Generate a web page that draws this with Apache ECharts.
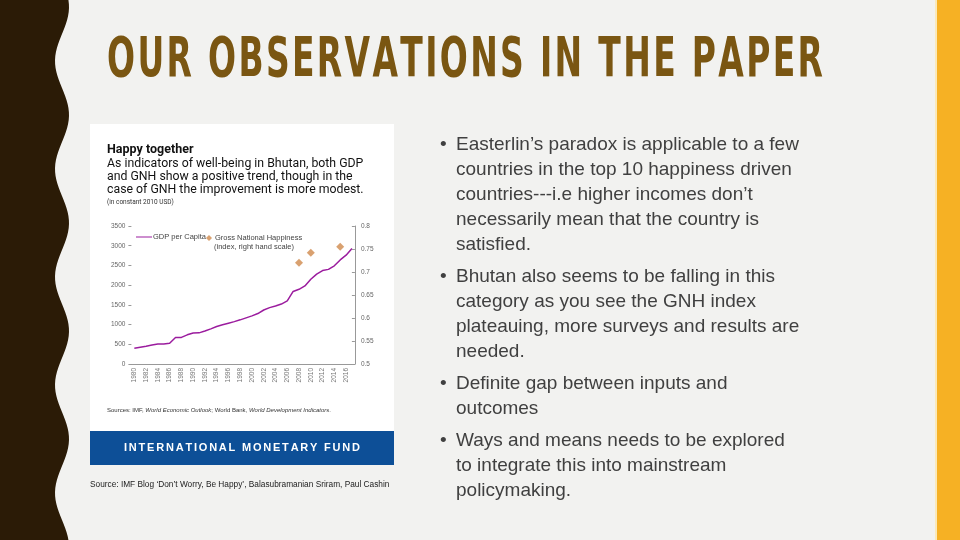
<!DOCTYPE html>
<html><head><meta charset="utf-8">
<script src="https://cdn.jsdelivr.net/npm/echarts@6/dist/echarts.min.js"></script>
<style>html,body{margin:0;padding:0;background:#f2f2f0;}#c{width:960px;height:540px;}</style>
</head><body><div id="c"></div>
<script>
// ---- data ----
const years = ['1980','1981','1982','1983','1984','1985','1986','1987','1988','1989','1990','1991','1992','1993','1994','1995','1996','1997','1998','1999','2000','2001','2002','2003','2004','2005','2006','2007','2008','2009','2010','2011','2012','2013','2014','2015','2016','2017'];
const gdpPerCapita = [400,425,450,480,505,510,525,670,675,740,785,790,835,890,950,995,1035,1075,1120,1170,1220,1280,1370,1430,1470,1520,1600,1840,1895,1980,2150,2280,2370,2400,2490,2640,2760,2930];
const gnhYears = ['2008','2010','2015'];
const gnhValues = [0.72, 0.742, 0.755];
const leftTicks = {min:0, max:3500, interval:500};
const rightTicks = {min:0.5, max:0.8, interval:0.05};
const bullets = [
  ["Easterlin\u2019s paradox is applicable to a few","countries in the top 10 happiness driven","countries---i.e higher incomes don\u2019t","necessarily mean that the country is","satisfied."],
  ["Bhutan also seems to be falling in this","category as you see the GNH index","plateauing, more surveys and results are","needed."],
  ["Definite gap between inputs and","outcomes"],
  ["Ways and means needs to be explored","to integrate this into mainstream","policymaking."]
];

const gnhSeries = years.map(y => { const i = gnhYears.indexOf(y); return i >= 0 ? gnhValues[i] : null; });

const cv = document.createElement('canvas').getContext('2d');
function spaced(str, x, y, font, scale, totalWidth, color, z) {
  cv.font = font;
  const ws = [...str].map(ch => cv.measureText(ch).width * scale);
  const sum = ws.reduce((a,b)=>a+b,0);
  const gap = (totalWidth - sum) / (str.length - 1);
  const out = []; let cx = x;
  [...str].forEach((ch, i) => {
    out.push({type:'text', x: cx, y: y, scaleX: scale, z: z||10,
      style:{text: ch, font: font, fill: color, textVerticalAlign:'middle'}});
    cx += ws[i] + gap;
  });
  return out;
}

// wavy left strip
const wave = [[0,0]];
for (let y = 0; y <= 540; y += 4) wave.push([62 + 7*Math.sin((y+20)/540*2*Math.PI*5), y]);
wave.push([0,540]);

const g = [];
g.push({type:'polygon', shape:{points: wave}, style:{fill:'#2b1b06'}, z:-5});
g.push({type:'rect', shape:{x:935,y:0,width:2,height:540}, style:{fill:'#fbe9b8'}, z:-5});
g.push({type:'rect', shape:{x:937,y:0,width:23,height:540}, style:{fill:'#f6b124'}, z:-5});
// title
g.push(...spaced('OUR OBSERVATIONS IN THE PAPER', 107, 62, 'bold 55px "DejaVu Sans"', 0.6, 716, '#7a5612', 5));
// image panel
g.push({type:'rect', shape:{x:90,y:124,width:304,height:307}, style:{fill:'#ffffff'}, z:-5});
g.push({type:'rect', shape:{x:90,y:431,width:304,height:34}, style:{fill:'#0d4f97'}, z:-5});
g.push(...spaced('INTERNATIONAL MONETARY FUND', 124, 448, 'bold 11px "Liberation Sans"', 1, 236, '#ffffff', 5));
g.push({type:'text', x:107, y:150, style:{text:'Happy together', font:'bold 12.5px Roboto', fill:'#111', textVerticalAlign:'middle'}, z:5});
['As indicators of well-being in Bhutan, both GDP','and GNH show a positive trend, though in the','case of GNH the improvement is more modest.'].forEach((t,i)=>{
  g.push({type:'text', x:107, y:163.5+i*13, style:{text:t, font:'12.3px Roboto', fill:'#111', textVerticalAlign:'middle'}, z:5});
});
g.push({type:'text', x:107, y:202, style:{text:'(in constant 2010 USD)', font:'6.5px Roboto', fill:'#333', textVerticalAlign:'middle'}, z:5});
g.push({type:'text', x:214, y:247, style:{text:'(index, right hand scale)', font:'7.5px "Liberation Sans"', fill:'#444', textVerticalAlign:'middle'}, z:5});
g.push({type:'text', x:107, y:410, style:{rich:{n:{font:'6px "Liberation Sans"',fill:'#333'},i:{font:'italic 6px "Liberation Sans"',fill:'#333'}},
  text:'{n|Sources: IMF, }{i|World Economic Outlook}{n|; World Bank, }{i|World Development Indicators}{n|.}', textVerticalAlign:'middle'}, z:5});
g.push({type:'text', x:90, y:485, style:{text:'Source: IMF Blog \u2018Don\u2019t Worry, Be Happy\u2019, Balasubramanian Sriram, Paul Cashin', font:'8.3px "Liberation Sans"', fill:'#222', textVerticalAlign:'middle'}, z:5});
// bullets
let ly = 144.5;
bullets.forEach(b => {
  g.push({type:'text', x:440, y:ly, style:{text:'\u2022', font:'19px "Liberation Sans"', fill:'#404040', textVerticalAlign:'middle'}, z:5});
  b.forEach(line => {
    g.push({type:'text', x:456, y:ly, style:{text:line, font:'19px "Liberation Sans"', fill:'#404040', textVerticalAlign:'middle'}, z:5});
    ly += 25;
  });
  ly += 7;
});

const chart = echarts.init(document.getElementById('c'), null, {renderer:'canvas'});
chart.setOption({
  backgroundColor:'#f2f2f0',
  animation:false,
  graphic: g,
  grid:{left:131.4, top:226, width:223.5, height:138},
  legend:[
    {data:['GDP per Capita'], left:136, top:233, itemWidth:16, itemHeight:8, icon:'path://M0,4 L16,4 L16,5 L0,5 Z',
     textStyle:{fontSize:7.5, color:'#444', fontFamily:'Liberation Sans', padding:[0,0,0,-4]}, padding:0},
    {data:['Gross National Happiness'], left:206, top:234, itemWidth:6, itemHeight:6, icon:'diamond',
     textStyle:{fontSize:7.5, color:'#444', fontFamily:'Liberation Sans', padding:[0,0,0,-2]}, padding:0}
  ],
  xAxis:{type:'category', data:years, boundaryGap:true, z:10,
    axisLine:{lineStyle:{color:'#999', width:1}},
    axisTick:{inside:true, length:3, interval:0, lineStyle:{color:'#999'}},
    axisLabel:{rotate:90, interval:1, fontSize:6.5, color:'#777', fontFamily:'Liberation Sans', margin:4}},
  yAxis:[
    {type:'value', min:leftTicks.min, max:leftTicks.max, interval:leftTicks.interval, z:10,
     splitLine:{show:false}, axisLine:{show:false},
     axisTick:{show:true, length:3, lineStyle:{color:'#999'}},
     axisLabel:{fontSize:6.5, color:'#666', fontFamily:'Liberation Sans', margin:6, formatter: v => String(v)}},
    {type:'value', position:'right', min:rightTicks.min, max:rightTicks.max, interval:rightTicks.interval, z:10,
     splitLine:{show:false}, axisLine:{show:true, lineStyle:{color:'#999'}},
     axisTick:{show:true, inside:true, length:3, lineStyle:{color:'#999'}},
     axisLabel:{fontSize:6.5, color:'#666', fontFamily:'Liberation Sans', margin:6}}
  ],
  series:[
    {name:'GDP per Capita', type:'line', data:gdpPerCapita, yAxisIndex:0, symbol:'none',
     lineStyle:{color:'#9b1c9e', width:1.5}, itemStyle:{color:'#9b1c9e'}},
    {name:'Gross National Happiness', type:'scatter', data:gnhSeries, yAxisIndex:1, symbol:'diamond', symbolSize:8,
     itemStyle:{color:'#d08a4c'}}
  ]
});
</script></body></html>
